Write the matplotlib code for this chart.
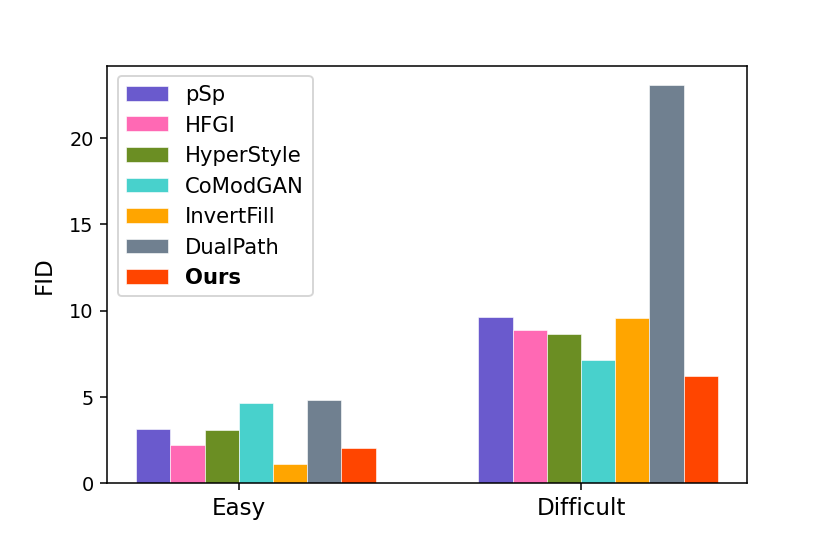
import matplotlib
matplotlib.use("Agg")
import matplotlib.pyplot as plt
import numpy as np

groups = ["Easy", "Difficult"]
methods = ["pSp", "HFGI", "HyperStyle", "CoModGAN", "InvertFill", "DualPath", "Ours"]
colors = ["slateblue", "hotpink", "olivedrab", "mediumturquoise", "orange", "slategray", "orangered"]
psp = [3.13, 9.64]
hfgi = [2.20, 8.86]
hyperstyle = [3.06, 8.66]
comodgan = [4.67, 7.11]
invertfill = [1.09, 9.59]
dualpath = [4.82, 23.05]
ours = [2.03, 6.22]
values = [psp, hfgi, hyperstyle, comodgan, invertfill, dualpath, ours]

fig = plt.figure(figsize=(6, 4), dpi=138.33)
ax = fig.add_axes([107/830, 1 - 484/554, (747 - 107)/830, (484 - 66)/554])
x = np.arange(len(groups))
w = 0.1
for i, (m, c, v) in enumerate(zip(methods, colors, values)):
    ax.bar(x + (i - 2.5) * w, v, w, label=m, color=c, edgecolor="white", linewidth=0.3)
ax.set_xticks(x)
ax.set_xticklabels(groups, fontsize=12)
ax.set_ylabel("FID", fontsize=12, labelpad=7)
ax.tick_params(axis="y", labelsize=10)
leg = ax.legend(loc="upper left", fontsize=11)
for t in leg.get_texts():
    if t.get_text() == "Ours":
        t.set_fontweight("bold")
fig.savefig("out.png", dpi=138.33)
